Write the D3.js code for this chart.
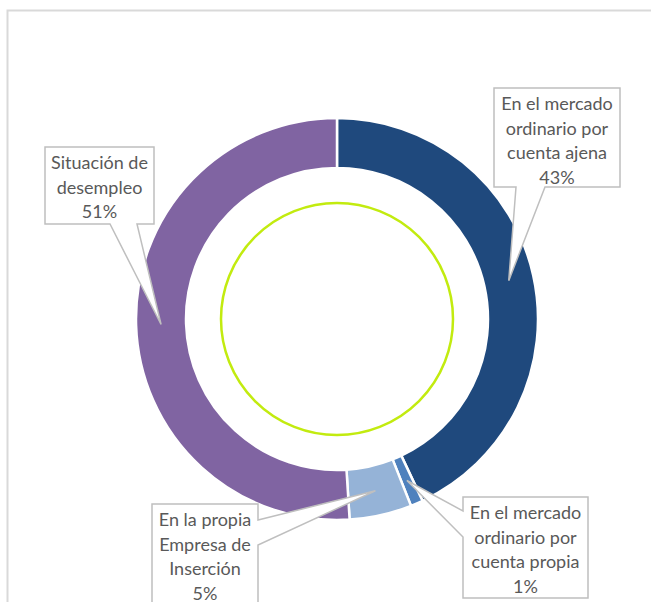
<!DOCTYPE html>
<meta charset="utf-8">
<script src="https://d3js.org/d3.v7.min.js"></script>
<style>
    body { margin: 0; background: #fff; }
    .lbl text {
        font: 18px Lato, 'Open Sans', sans-serif;
        fill: #595959;
        text-anchor: middle;
    }
    .lbl path {
        fill: #fff;
        stroke: #bfbfbf;
        stroke-width: 1.5;
    }
</style>
<svg id="chart" width="651" height="602"></svg>
<script>
    // data
    const categories = [
        "En el mercado ordinario por cuenta ajena",
        "En el mercado ordinario por cuenta propia",
        "En la propia Empresa de Inserción",
        "Situación de desempleo"
    ];
    const values = [43, 1, 5, 51];
    const labelLines = [
        ["En el mercado", "ordinario por", "cuenta ajena", "43%"],
        ["En el mercado", "ordinario por", "cuenta propia", "1%"],
        ["En la propia", "Empresa de", "Inserción", "5%"],
        ["Situación de", "desempleo", "51%"]
    ];
    const colors = ["#1f497d", "#4f81bd", "#95b3d7", "#8064a2"];

    // label boxes (layout) and where the callout leaves the box
    const boxes = [
        { x: 494, y: 88, w: 126, h: 99, side: "bottom", a: 516, b: 545 },
        { x: 463, y: 497, w: 125, h: 101, side: "left", a: 511, b: 537 },
        { x: 152, y: 504, w: 106, h: 110, side: "right", a: 520, b: 545 },
        { x: 45, y: 147, w: 109, h: 77, side: "bottom", a: 110, b: 137 }
    ];

    const cx = 337, cy = 319, rOuter = 201, rInner = 151;
    const svg = d3.select("#chart");

    // outer frame
    svg.append("rect")
        .attr("x", 7.5).attr("y", 10.5)
        .attr("width", 800).attr("height", 800)
        .attr("fill", "none")
        .attr("stroke", "#d9d9d9")
        .attr("stroke-width", 2);

    const g = svg.append("g").attr("transform", `translate(${cx},${cy})`);

    const pie = d3.pie().sort(null).value(d => d);
    const arcs = pie(values);
    const arc = d3.arc().innerRadius(rInner).outerRadius(rOuter);
    const tipArc = d3.arc().innerRadius(rInner + 2).outerRadius(rOuter - 2);

    g.selectAll("path.slice")
        .data(arcs)
        .enter()
        .append("path")
        .attr("class", "slice")
        .attr("d", arc)
        .attr("fill", (d, i) => colors[i])
        .attr("stroke", "#fff")
        .attr("stroke-width", 2.5);

    // green inner circle
    g.append("circle")
        .attr("r", 116)
        .attr("fill", "none")
        .attr("stroke", "#c2eb0f")
        .attr("stroke-width", 2.5);

    function bubblePath(bx, tip) {
        const x0 = bx.x, y0 = bx.y, x1 = bx.x + bx.w, y1 = bx.y + bx.h;
        let pts;
        if (bx.side === "bottom") {
            pts = [[x0, y0], [x1, y0], [x1, y1], [bx.b, y1], tip, [bx.a, y1], [x0, y1]];
        } else if (bx.side === "right") {
            pts = [[x0, y0], [x1, y0], [x1, bx.a], tip, [x1, bx.b], [x1, y1], [x0, y1]];
        } else {
            pts = [[x0, y0], [x1, y0], [x1, y1], [x0, y1], [x0, bx.b], tip, [x0, bx.a]];
        }
        return "M" + pts.map(p => p.join(",")).join("L") + "Z";
    }

    const lbl = svg.append("g").attr("class", "lbl");
    arcs.forEach((d, i) => {
        const c = tipArc.centroid(d);
        const tip = [cx + c[0], cy + c[1]];
        const bx = boxes[i];
        const grp = lbl.append("g");
        grp.append("path").attr("d", bubblePath(bx, tip));
        const t = grp.append("text");
        labelLines[i].forEach((line, j) => {
            t.append("tspan")
                .attr("x", bx.x + bx.w / 2)
                .attr("y", bx.y + 22 + j * 24.5)
                .text(line);
        });
    });
</script>
